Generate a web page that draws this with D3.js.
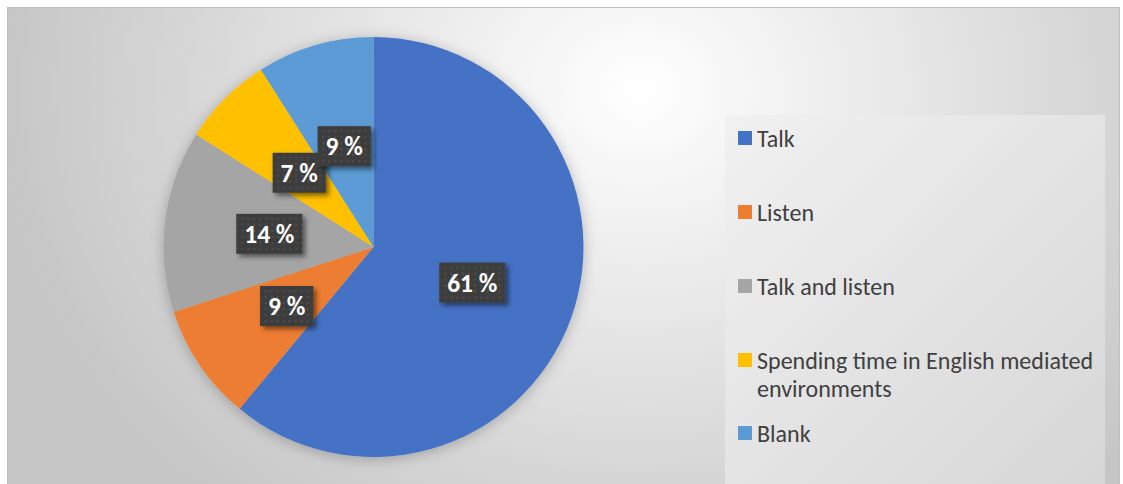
<!DOCTYPE html>
<html>
<head>
<meta charset="utf-8">
<script src="https://cdn.jsdelivr.net/npm/d3@7"></script>
<style>
  html, body { margin: 0; padding: 0; background: #ffffff; }
  svg { display: block; }
</style>
</head>
<body>
<svg id="chart" width="1123" height="484"></svg>
<script>
// Activity shares (percent)
const categories = ["Talk", "Listen", "Talk and listen", "Spending time in English mediated environments", "Blank"];
const values = [61, 9, 14, 7, 9];
const colors = ["#4472c4", "#ed7d31", "#a5a5a5", "#ffc000", "#5b9bd5"];
const valueLabels = ["61 %", "9 %", "14 %", "7 %", "9 %"];

const W = 1123, H = 484;
const FONT = "Carlito, Lato, 'Open Sans', sans-serif";
const svg = d3.select("#chart");
const defs = svg.append("defs");

// Chart area background: soft radial light
const bg = defs.append("radialGradient").attr("id", "bgGrad")
  .attr("gradientUnits", "userSpaceOnUse")
  .attr("cx", 640).attr("cy", 90).attr("r", 640)
  .attr("gradientTransform", "translate(640,90) scale(1,0.85) translate(-640,-90)");
bg.append("stop").attr("offset", "0%").attr("stop-color", "#ffffff");
bg.append("stop").attr("offset", "100%").attr("stop-color", "#c6c6c6");

const lg = defs.append("linearGradient").attr("id", "legGrad")
  .attr("x1", "0%").attr("y1", "0%").attr("x2", "100%").attr("y2", "100%");
lg.append("stop").attr("offset", "0%").attr("stop-color", "#f1f1f1");
lg.append("stop").attr("offset", "100%").attr("stop-color", "#d6d6d6");

// Dotted dark fill for value labels
const pat = defs.append("pattern").attr("id", "dots")
  .attr("patternUnits", "userSpaceOnUse").attr("width", 6).attr("height", 6);
pat.append("rect").attr("width", 6).attr("height", 6).attr("fill", "#3d3d3d");
pat.append("rect").attr("x", 2).attr("y", 2).attr("width", 2).attr("height", 2).attr("fill", "#4e4e4e");

const pieShadow = defs.append("filter").attr("id", "pieShadow")
  .attr("x", "-20%").attr("y", "-20%").attr("width", "140%").attr("height", "140%");
pieShadow.append("feDropShadow").attr("dx", 0).attr("dy", 2).attr("stdDeviation", 7)
  .attr("flood-color", "#000").attr("flood-opacity", 0.25);

const boxShadow = defs.append("filter").attr("id", "boxShadow")
  .attr("x", "-30%").attr("y", "-30%").attr("width", "160%").attr("height", "160%");
boxShadow.append("feDropShadow").attr("dx", 3).attr("dy", 3).attr("stdDeviation", 2.5)
  .attr("flood-color", "#000").attr("flood-opacity", 0.5);

// Frame
svg.append("rect").attr("x", 7.5).attr("y", 7.5).attr("width", 1112).attr("height", 490)
  .attr("fill", "url(#bgGrad)").attr("stroke", "#bfbfbf").attr("stroke-width", 1);

// Pie
const cx = 373.5, cy = 247, R = 210;
const pie = d3.pie().sort(null).value(d => d)(values);
const arc = d3.arc().innerRadius(0).outerRadius(R);

const g = svg.append("g").attr("transform", `translate(${cx},${cy})`);
g.append("g").attr("filter", "url(#pieShadow)")
  .selectAll("path").data(pie).join("path")
  .attr("d", arc)
  .attr("fill", (d, i) => colors[i]);

// Value labels at slice centroids
const labels = g.append("g").selectAll("g").data(pie).join("g")
  .attr("transform", d => `translate(${arc.centroid(d)})`);
labels.each(function (d, i) {
  const sel = d3.select(this);
  const t = sel.append("text")
    .attr("text-anchor", "middle").attr("dy", "0.36em")
    .attr("font-family", FONT).attr("font-weight", "bold").attr("font-size", 25.5)
    .attr("fill", "#ffffff").text(valueLabels[i]);
  const bw = t.node().getComputedTextLength() + 16, bh = 40;
  sel.insert("rect", "text")
    .attr("x", -bw / 2).attr("y", -bh / 2).attr("width", bw).attr("height", bh)
    .attr("fill", "url(#dots)").attr("filter", "url(#boxShadow)");
});

// Legend
const legX = 725, legY = 115;
svg.append("rect").attr("x", legX).attr("y", legY).attr("width", 380).attr("height", 380)
  .attr("fill", "url(#legGrad)");

const rowY = [138, 212, 286, 360, 433];
const lineH = 28;
const leg = svg.append("g");
categories.forEach((c, i) => {
  const row = leg.append("g").attr("transform", `translate(738,${rowY[i]})`);
  row.append("rect").attr("x", 0).attr("y", -7).attr("width", 14).attr("height", 14).attr("fill", colors[i]);
  const txt = row.append("text").attr("x", 19).attr("y", 0)
    .attr("font-family", FONT).attr("font-size", 24).attr("fill", "#404040");
  // wrap words to the legend width
  const words = c.split(" ");
  let line = [];
  let ts = txt.append("tspan").attr("x", 19).attr("dy", "0.36em");
  words.forEach(w => {
    line.push(w);
    ts.text(line.join(" "));
    if (ts.node().getComputedTextLength() > 350 && line.length > 1) {
      line.pop();
      ts.text(line.join(" "));
      line = [w];
      ts = txt.append("tspan").attr("x", 19).attr("dy", lineH).text(w);
    }
  });
});
</script>
</body>
</html>
